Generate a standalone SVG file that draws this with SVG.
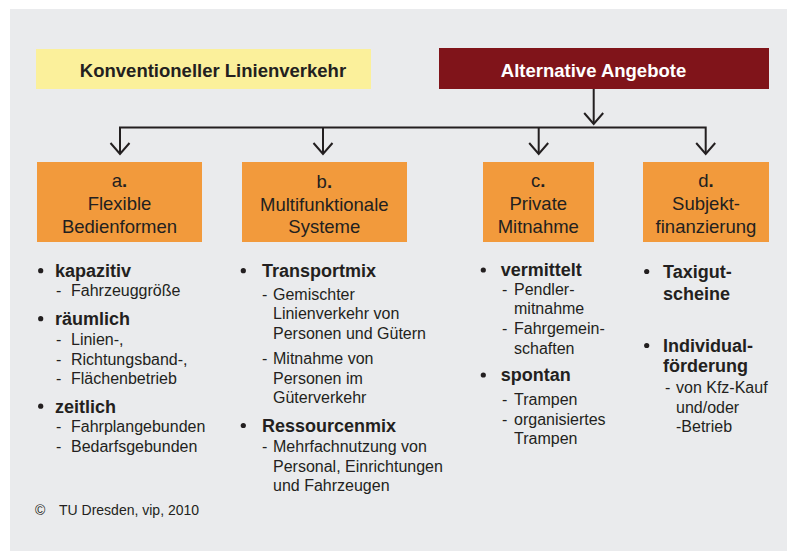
<svg xmlns="http://www.w3.org/2000/svg" width="787" height="551" viewBox="0 0 787 551">
<style>
text{font-family:"Liberation Sans",Arial,Helvetica,sans-serif;fill:#231F20}
.hd{font-size:18.5px;font-weight:bold}
.bx{font-size:18.5px;text-anchor:middle}
.bh{font-size:18px;font-weight:bold}
.sb{font-size:16px}
.cp{font-size:14px}
.b{font-weight:bold}
.ln{fill:none;stroke:#231F20;stroke-width:2;stroke-linejoin:miter}
.box{fill:#F29A3C}
.dot{fill:#231F20}
</style>
<defs>
<marker id="arr" markerUnits="userSpaceOnUse" viewBox="-14 -12 16 24" refX="0" refY="0" markerWidth="16" markerHeight="24" orient="auto-start-reverse" overflow="visible">
<path d="M-11,-9.5 L0,0 L-11,9.5" fill="none" stroke="#231F20" stroke-width="2"/>
</marker>
</defs>
<rect x="0" y="0" width="787" height="551" fill="#FFFFFF"/>
<rect x="10" y="9" width="777" height="542" fill="#EAEBED"/>

<g id="konventionell">
<rect x="36" y="49" width="335" height="40" fill="#FBF09B"/>
<text class="hd" x="213" y="77" text-anchor="middle">Konventioneller Linienverkehr</text>
</g>
<g id="alternativ">
<rect x="439" y="48" width="330" height="41" fill="#80141A"/>
<text class="hd" x="593.5" y="77" text-anchor="middle" style="fill:#FFFFFF">Alternative Angebote</text>
</g>

<g id="connectors">
<path class="ln" d="M593.7,89 V124" marker-end="url(#arr)"/>
<path class="ln" d="M120,154 V127.5 H705.7 V154" marker-start="url(#arr)" marker-end="url(#arr)"/>
<path class="ln" d="M323,127.5 V154" marker-end="url(#arr)"/>
<path class="ln" d="M538.7,127.5 V154" marker-end="url(#arr)"/>
</g>

<g id="node-a">
<rect class="box" x="37" y="162" width="165" height="80"/>
<text class="bx" x="119.5" y="187">a<tspan class="b">.</tspan></text>
<text class="bx" x="119.5" y="209.5">Flexible</text>
<text class="bx" x="119.5" y="232.5">Bedienformen</text>
</g>
<g id="node-b">
<rect class="box" x="242" y="162" width="165" height="80"/>
<text class="bx" x="324.3" y="188">b<tspan class="b">.</tspan></text>
<text class="bx" x="324.3" y="211">Multifunktionale</text>
<text class="bx" x="324.3" y="233">Systeme</text>
</g>
<g id="node-c">
<rect class="box" x="483" y="162" width="111" height="80"/>
<text class="bx" x="538.3" y="187">c<tspan class="b">.</tspan></text>
<text class="bx" x="538.3" y="209.5">Private</text>
<text class="bx" x="538.3" y="232.5">Mitnahme</text>
</g>
<g id="node-d">
<rect class="box" x="643" y="162" width="126" height="80"/>
<text class="bx" x="706" y="187">d<tspan class="b">.</tspan></text>
<text class="bx" x="706" y="209.5">Subjekt-</text>
<text class="bx" x="706" y="232.5">finanzierung</text>
</g>

<g id="list-a">
<circle class="dot" cx="40.7" cy="270.7" r="2.6"/>
<text class="bh" x="55" y="277">kapazitiv</text>
<text class="sb" x="56" y="296">-<tspan x="71">Fahrzeuggröße</tspan></text>
<circle class="dot" cx="40.7" cy="318.7" r="2.6"/>
<text class="bh" x="55" y="325">räumlich</text>
<text class="sb" x="56" y="345">-<tspan x="71">Linien-,</tspan></text>
<text class="sb" x="56" y="364.5">-<tspan x="71">Richtungsband-,</tspan></text>
<text class="sb" x="56" y="384">-<tspan x="71">Flächenbetrieb</tspan></text>
<circle class="dot" cx="40.7" cy="406.2" r="2.6"/>
<text class="bh" x="55" y="412.5">zeitlich</text>
<text class="sb" x="56" y="432">-<tspan x="71">Fahrplangebunden</tspan></text>
<text class="sb" x="56" y="451.5">-<tspan x="71">Bedarfsgebunden</tspan></text>
</g>

<g id="list-b">
<circle class="dot" cx="243.3" cy="270.7" r="2.6"/>
<text class="bh" x="262" y="277">Transportmix</text>
<text class="sb" x="262" y="300">-<tspan x="273">Gemischter</tspan></text>
<text class="sb" x="273" y="319">Linienverkehr von</text>
<text class="sb" x="273" y="338.5">Personen und Gütern</text>
<text class="sb" x="262" y="364">-<tspan x="273">Mitnahme von</tspan></text>
<text class="sb" x="273" y="383.5">Personen im</text>
<text class="sb" x="273" y="403">Güterverkehr</text>
<circle class="dot" cx="243.3" cy="425.5" r="2.6"/>
<text class="bh" x="262" y="432">Ressourcenmix</text>
<text class="sb" x="262" y="452">-<tspan x="273">Mehrfachnutzung von</tspan></text>
<text class="sb" x="273" y="471.5">Personal, Einrichtungen</text>
<text class="sb" x="273" y="490.5">und Fahrzeugen</text>
</g>

<g id="list-c">
<circle class="dot" cx="483.3" cy="270" r="2.6"/>
<text class="bh" x="500.7" y="276">vermittelt</text>
<text class="sb" x="502" y="295">-<tspan x="514">Pendler-</tspan></text>
<text class="sb" x="514" y="314">mitnahme</text>
<text class="sb" x="502" y="334">-<tspan x="514">Fahrgemein-</tspan></text>
<text class="sb" x="514" y="353.5">schaften</text>
<circle class="dot" cx="483.3" cy="375" r="2.6"/>
<text class="bh" x="500.7" y="381">spontan</text>
<text class="sb" x="502" y="405">-<tspan x="514">Trampen</tspan></text>
<text class="sb" x="502" y="424.5">-<tspan x="514">organisiertes</tspan></text>
<text class="sb" x="514" y="444">Trampen</text>
</g>

<g id="list-d">
<circle class="dot" cx="646.7" cy="271.5" r="2.6"/>
<text class="bh" x="663" y="277.7">Taxigut-</text>
<text class="bh" x="663" y="300">scheine</text>
<circle class="dot" cx="646.7" cy="345.5" r="2.6"/>
<text class="bh" x="663" y="351.7">Individual-</text>
<text class="bh" x="663" y="371.7">förderung</text>
<text class="sb" x="665" y="393.3">-<tspan x="676">von Kfz-Kauf</tspan></text>
<text class="sb" x="676" y="412.5">und/oder</text>
<text class="sb" x="676" y="432">-Betrieb</text>
</g>

<g id="copyright">
<text class="cp" x="35" y="515">©<tspan x="59">TU Dresden, vip, 2010</tspan></text>
</g>
</svg>
